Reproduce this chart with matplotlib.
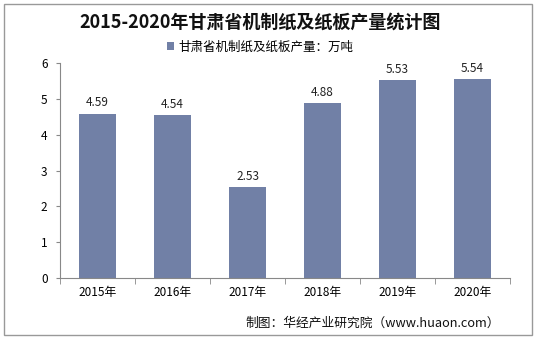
import matplotlib
matplotlib.use("Agg")
import matplotlib.pyplot as plt
from matplotlib.patches import Rectangle, Patch

plt.rcParams['font.family'] = ['Noto Sans CJK SC', 'DejaVu Sans']

categories = ["2015年", "2016年", "2017年", "2018年", "2019年", "2020年"]
values = [4.59, 4.54, 2.53, 4.88, 5.53, 5.54]
title = "2015-2020年甘肃省机制纸及纸板产量统计图"
series_name = "甘肃省机制纸及纸板产量：万吨"
source = "制图：华经产业研究院（www.huaon.com）"
bar_color = "#7180A6"

fig = plt.figure(figsize=(5.38, 3.41), dpi=100)
ax = fig.add_axes([60/538, 1-278/341, 450/538, 215/341])

x = range(len(categories))
ax.bar(x, values, width=0.5, color=bar_color, zorder=2)
for xi, v in zip(x, values):
    ax.text(xi, v + 0.12, f"{v:.2f}", ha="center", va="bottom", fontsize=8.5, color="#222222")

ax.set_xlim(-0.5, len(categories) - 0.5)
ax.set_ylim(0, 6)
ax.set_yticks(range(0, 7))
ax.set_xticks(list(x))
ax.set_xticklabels(categories, fontsize=8.5)
ax.tick_params(axis='y', labelsize=8.5, length=3, color="#888888", pad=6)
ax.tick_params(axis='x', length=0, pad=6)
ax.set_xticks([i - 0.5 for i in range(len(categories) + 1)], minor=True)
ax.tick_params(axis='x', which='minor', length=4, color="#888888")
for s in ["top", "right"]:
    ax.spines[s].set_visible(False)
ax.spines["left"].set_color("#888888")
ax.spines["bottom"].set_color("#888888")

fig.text(260/538, 1-22/341, title, ha="center", va="center", fontsize=13, fontweight="bold", color="#111111")
leg = fig.legend(handles=[Patch(facecolor=bar_color)], labels=[series_name], loc="center",
                 bbox_to_anchor=(260/538, 1-47/341), frameon=False, fontsize=9,
                 handlelength=0.6, handleheight=0.6, handletextpad=0.3)

fig.text(500/538, 1-323/341, source, ha="right", va="center", fontsize=9.2, color="#111111")

fig.patches.append(Rectangle((4/538, 1-335/341), 528/538, 331/341, transform=fig.transFigure,
                             fill=False, edgecolor="#999999", linewidth=1))

fig.savefig("out.png", dpi=100)
